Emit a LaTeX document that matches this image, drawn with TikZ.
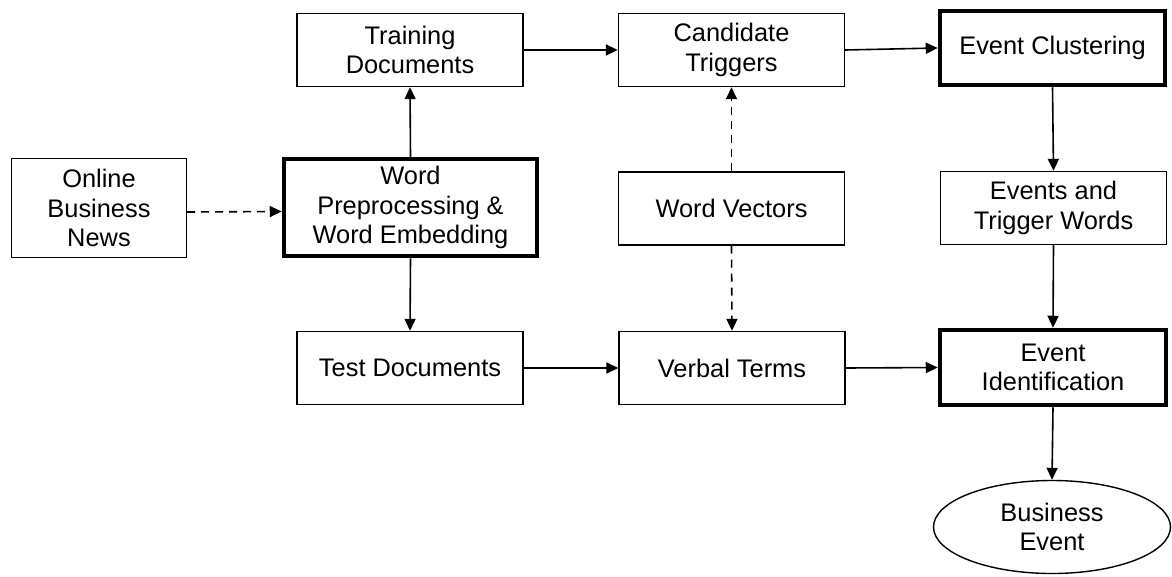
\documentclass[tikz,border=0pt]{standalone}
\usepackage{fontspec}
\setmainfont{Liberation Sans}
\usetikzlibrary{arrows.meta,shapes.geometric}

\tikzset{
  box/.style={draw, line width=1.4pt, rectangle, inner sep=0pt, align=center,
              minimum width=226pt, minimum height=73pt,
              font=\fontsize{25.4}{29.3}\selectfont},
  keybox/.style={box, line width=4.5pt},
  goal/.style={draw, line width=1.4pt, ellipse, inner sep=0pt, align=center,
               minimum width=237pt, minimum height=93pt,
               font=\fontsize{25.4}{29.3}\selectfont},
  flow/.style={line width=1.6pt, -{Triangle[length=12pt,width=11pt]}},
  feed/.style={flow, dash pattern=on 8pt off 6pt},
}

\begin{document}
\begin{tikzpicture}[x=1pt, y=-1pt]
  \useasboundingbox (0,0) rectangle (1172,576);

  % sources and preprocessing
  \node[box, minimum width=175pt, minimum height=99pt] (news) at (99,208) {Online\\Business\\News};
  \node[keybox, minimum width=253pt, minimum height=97pt] (prep) at (410.5,207.5) {Word\\Preprocessing \&\\Word Embedding};
  \node[box] (train) at (410,50) {Training\\Documents};
  \node[box] (test) at (410,368) {Test Documents};

  % middle column
  \node[box] (cand) at (731.5,50) {Candidate\\Triggers};
  \node[box] (vec) at (731.5,208.5) {Word Vectors};
  \node[box] (verb) at (732,368) {Verbal Terms};

  % right column
  \node[keybox, minimum width=225pt, minimum height=74pt] (clus) at (1052.5,48) {Event Clustering};
  \node[box] (trig) at (1053.5,208) {Events and\\Trigger Words};
  \node[keybox, minimum width=226pt, minimum height=75pt] (ident) at (1053,367.5) {Event\\Identification};
  \node[goal] (biz) at (1052,527) {Business\\Event};

  % connectors
  \draw[feed] ([yshift=-4pt]news.east) -- ([yshift=-4pt]prep.west);
  \draw[flow] (prep.north) -- (train.south);
  \draw[flow] (prep.south) -- (test.north);
  \draw[flow] (train.east) -- (cand.west);
  \draw[flow] (cand.east) -- (clus.west);
  \draw[feed] (vec.north) -- (cand.south);
  \draw[feed] (vec.south) -- (verb.north);
  \draw[flow] (clus.south) -- (trig.north);
  \draw[flow] (trig.south) -- (ident.north);
  \draw[flow] (test.east) -- (verb.west);
  \draw[flow] (verb.east) -- (ident.west);
  \draw[flow] (ident.south) -- (biz.north);
\end{tikzpicture}
\end{document}
